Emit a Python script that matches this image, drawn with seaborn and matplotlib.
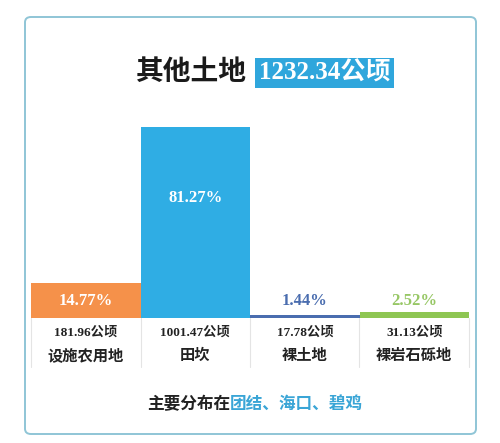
import matplotlib
matplotlib.use('Agg')
import matplotlib.pyplot as plt
from matplotlib.patches import FancyBboxPatch, Rectangle
import seaborn as sns

# Data
categories = ['设施农用地', '田坎', '裸土地', '裸岩石砾地']
areas = ['181.96', '1001.47', '17.78', '31.13']
percents = [14.77, 81.27, 1.44, 2.52]
colors = ['#f5914a', '#2fade4', '#4a6daf', '#8ec653']
label_colors = ['white', 'white', '#4a6daf', '#97c765']
total = '1232.34'
title_text = '其他土地'
note_black = '主要分布在'
note_blue = '团结、海口、碧鸡'

sns.set_theme(style='white')
plt.rcParams['font.family'] = ['Liberation Serif', 'Noto Sans CJK SC', 'DejaVu Sans']

W, H = 500, 443
fig = plt.figure(figsize=(W / 100, H / 100), dpi=100)
fig.patch.set_facecolor('white')

def fx(px):
    return px / W

def fy(py):
    return 1 - py / H

# outer frame
frame = FancyBboxPatch((fx(25), fy(434)), fx(476) - fx(25), fy(17) - fy(434),
                       boxstyle='round,pad=0,rounding_size=0.012',
                       transform=fig.transFigure, facecolor='none',
                       edgecolor='#8fc5d6', linewidth=1.4, zorder=-1)
fig.patches.append(frame)

# title
fig.text(fx(191), fy(73), title_text, ha='center', va='center', fontsize=20,
         fontweight='bold', color='#1a1a1a')
box = Rectangle((fx(255), fy(88)), fx(394) - fx(255), fy(58) - fy(88),
                transform=fig.transFigure, facecolor='#2fa6dc', edgecolor='none')
fig.patches.append(box)
fig.text(fx(324.5), fy(73), total + '公顷', ha='center', va='center', fontsize=18,
         fontweight='bold', color='white')

# bars
ax = fig.add_axes([fx(31), fy(318), fx(469) - fx(31), fy(127) - fy(318)], zorder=2)
ax.patch.set_alpha(0)
sns.barplot(x=categories, y=percents, hue=categories, palette=colors, width=1.0,
            saturation=1, legend=False, linewidth=0, ax=ax)
ax.set_xlim(-0.5, len(categories) - 0.5)
ax.set_ylim(0, max(percents))
ax.axis('off')

min_label_y = percents[0] / 2
for i, p in enumerate(percents):
    y = p * 0.63 if p > 50 else max(p / 2, min_label_y)
    ax.text(i, y, f'{p:.2f}%', ha='center', va='center', fontsize=12,
            fontweight='bold', color=label_colors[i])
    ax.annotate(areas[i] + '公顷', xy=(i, 0), xytext=(0, -15),
                textcoords='offset pixels', ha='center', va='center',
                fontsize=9.5, fontweight='bold', color='#222222',
                annotation_clip=False)
    ax.annotate(categories[i], xy=(i, 0), xytext=(0, -38),
                textcoords='offset pixels', ha='center', va='center',
                fontsize=11, fontweight='bold', color='#222222',
                annotation_clip=False)

# column separators
n = len(categories)
for k in range(n + 1):
    xs = fx(31) + k * (fx(469) - fx(31)) / n
    fig.lines.append(plt.Line2D([xs, xs], [fy(318), fy(367)], transform=fig.transFigure,
                                color='#e4e4e4', linewidth=0.8))

# note
fig.text(fx(230), fy(405), note_black, ha='right', va='center', fontsize=12,
         fontweight='bold', color='#222222')
fig.text(fx(230), fy(405), note_blue, ha='left', va='center', fontsize=12,
         fontweight='bold', color='#3aa5d6')

fig.savefig('out.png', dpi=100)
